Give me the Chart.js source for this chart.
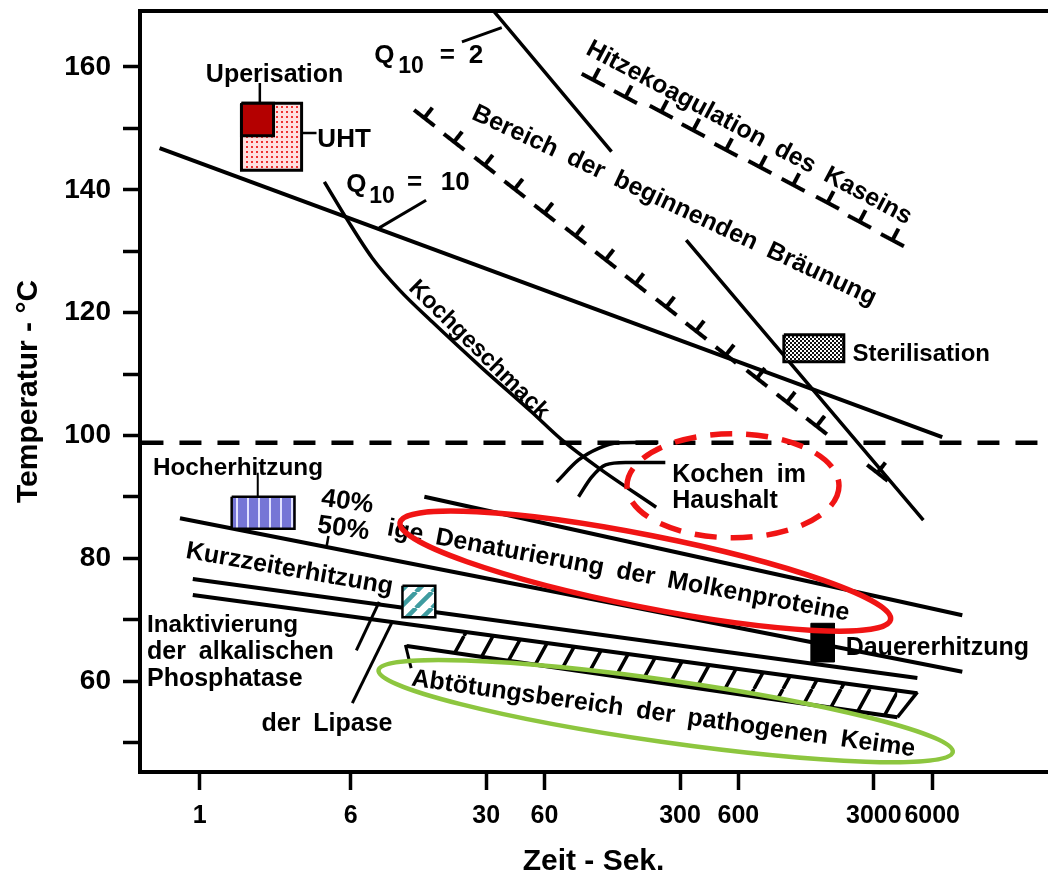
<!DOCTYPE html>
<html>
<head>
<meta charset="utf-8">
<script src="https://cdn.jsdelivr.net/npm/chart.js@4.4.1/dist/chart.umd.min.js"></script>
<style>
  html, body { margin: 0; padding: 0; background: #fff; }
</style>
</head>
<body>
<canvas id="chart" width="1052" height="877"></canvas>
<script>
// Achsen: Zeit in Sekunden (log), Temperatur in °C
const timeMin = 0.4914, timeMax = 23460;
const tempMin = 45.18, tempMax = 169.12;
const timeTicks = [1, 6, 30, 60, 300, 600, 3000, 6000];
const tempTicks = [50, 60, 70, 80, 90, 100, 110, 120, 130, 140, 150, 160];
const tempLabelled = [60, 80, 100, 120, 140, 160];

// Siedelinie (gestrichelt)
const boilTime = [0.5, 22000];
const boilTemp = [98.8, 98.8];

// Q10 = 10 und Q10 = 2 (mit Lücke fürs Label)
const q10Time = [0.62, 6760];
const q10Temp = [146.8, 99.7];
const q2Time = [33, 133, 230, 323, 5400];
const q2Temp = [169.0, 146.2, null, 131.8, 86.2];

// Kochgeschmack (Kurve)
const kochTime = [4.39, 5.77, 7.75, 10.7, 15.8, 28.5, 51.5, 73.5, 114, 226];
const kochTemp = [141.3, 135.1, 128.9, 123.7, 118.5, 111.0, 103.8, 99.3, 94.7, 88.3];

// Kochen im Haushalt, zwei Bögen
const haus1Time = [69.3, 89.9, 114, 144, 232];
const haus1Temp = [92.4, 96.0, 97.9, 98.8, 98.9];
const haus2Time = [89.9, 105, 124, 157, 252];
const haus2Temp = [90.0, 93.2, 95.2, 95.6, 95.6];

// T-Linien: Bräunung und Hitzekoagulation
const braunTime = [14.4, 20.5, 29.5, 42.1, 60.1, 86.8, 124, 177, 255, 363, 518, 748, 1070, 1520, 3130];
const braunTemp = [151.7, 147.8, 144.0, 140.1, 136.2, 132.5, 128.6, 124.7, 120.9, 117.0, 113.1, 109.3, 105.4, 101.5, 93.9];
const kaseinTime = [107, 157, 240, 351, 518, 775, 1150, 1730, 2530, 3740];
const kaseinTemp = [157.9, 155.1, 152.7, 149.7, 146.5, 143.7, 140.8, 137.9, 134.8, 131.8];

// untere Geraden
const den40Time = [14.4, 8580];
const den40Temp = [90.0, 70.7];
const den50Time = [0.79, 8580];
const den50Temp = [86.5, 61.5];
const kurz1Time = [0.92, 5030];
const kurz1Temp = [76.6, 60.5];
const kurz2Time = [0.92, 5030];
const kurz2Temp = [74.0, 58.0];
const keimBottomTime = [11.7, 3970];
const keimBottomTemp = [65.7, 54.1];
const hatchTime = [19.3, 3970];
const hatchTopTemp = [68.4, 58.5];
const hatchBotTemp = [64.7, 54.1];
const keimCapTime = [3970, 5030];
const keimCapTemp = [54.1, 58.2];
const keimLegTime = [11.5, 12.3];
const keimLegTemp = [65.9, 62.1];

// Hinweisstriche
const q2LeadTime = [22.5, 36.1], q2LeadTemp = [164.1, 166.4];
const q10LeadTime = [8.42, 14.7], q10LeadTemp = [133.8, 138.3];
const upeLeadTime = [2.04, 2.04], upeLeadTemp = [157.4, 154.1];
const uhtLeadTime = [3.35, 4.0], uhtLeadTemp = [149.25, 149.25];
const hochLeadTime = [1.99, 1.99], hochLeadTemp = [93.9, 90.0];
const pctLeadTime = [4.61, 4.50], pctLeadTemp = [83.6, 81.8];
const phosLeadTime = [6.42, 8.42], phosLeadTemp = [65.0, 72.9];
const lipLeadTime = [6.12, 9.82], lipLeadTemp = [56.4, 69.6];

// Kästchen [t1, t2], [T oben, T unten]
const uhtBoxTime = [1.64, 3.35], uhtBoxTemp = [154.1, 143.2];
const upeBoxTime = [1.64, 2.40], upeBoxTemp = [154.1, 148.8];
const sterBoxTime = [1030, 2100], sterBoxTemp = [116.4, 112.0];
const hochBoxTime = [1.46, 3.08], hochBoxTemp = [90.0, 84.8];
const kurzBoxTime = [11.1, 16.4], kurzBoxTemp = [75.5, 70.4];
const dauerBoxTime = [1420, 1880], dauerBoxTemp = [69.4, 63.1];

// Beschriftungen (Anker in Sek. / °C)
const labels = [
  {text: 'Uperisation', t: 1.074, c: 157.6},
  {text: 'UHT', t: 4.04, c: 147.0, size: 26},
  {text: 'Q', t: 7.94, c: 160.65, size: 26},
  {text: '10', t: 10.55, c: 159.0, size: 23},
  {text: '=', t: 17.3, c: 160.65, size: 26},
  {text: '2', t: 24.4, c: 160.65, size: 26},
  {text: 'Q', t: 5.70, c: 139.6, size: 26},
  {text: '10', t: 7.48, c: 137.85, size: 23},
  {text: '=', t: 11.7, c: 140.0, size: 26},
  {text: '10', t: 17.5, c: 140.0, size: 26},
  {text: 'Hitzekoagulation des Kaseins', t: 681, c: 149.25, angle: 28, align: 'center'},
  {text: 'Bereich der beginnenden Bräunung', t: 280, c: 137.4, angle: 25, align: 'center'},
  {text: 'Kochgeschmack', t: 27.5, c: 113.9, angle: 44.6, align: 'center', size: 23.5},
  {text: 'Kochen im', t: 273.5, c: 92.4},
  {text: 'Haushalt', t: 273.5, c: 88.2},
  {text: 'Sterilisation', t: 2331, c: 112.1, size: 24},
  {text: 'Hocherhitzung', t: 0.573, c: 93.55, size: 24.3},
  {text: '40%', t: 5.77, c: 89.15, angle: 8, align: 'center', size: 26},
  {text: '50%', t: 5.50, c: 84.8, angle: 8, align: 'center', size: 26},
  {text: 'ige Denaturierung der Molkenproteine', t: 144.3, c: 77.9, angle: 10.5, align: 'center'},
  {text: 'Kurzzeiterhitzung', t: 2.90, c: 78.2, angle: 10, align: 'center'},
  {text: 'Abtötungsbereich der pathogenen Keime', t: 246, c: 54.6, angle: 8, align: 'center'},
  {text: 'Inaktivierung', t: 0.534, c: 68.0, size: 24.3},
  {text: 'der alkalischen', t: 0.534, c: 63.6},
  {text: 'Phosphatase', t: 0.534, c: 59.2},
  {text: 'der Lipase', t: 2.08, c: 51.9},
  {text: 'Dauererhitzung', t: 2146, c: 64.2}
];

// rote / grüne Markierungen
const rings = [
  {t: 198.7, c: 77.9, rx: 250, ry: 36, angle: 11.2, color: '#f01414', width: 5.5},
  {t: 563, c: 91.8, rx: 106, ry: 52, angle: 0, color: '#f01414', width: 5.5, dash: [22, 14]},
  {t: 253, c: 55.1, rx: 290, ry: 31, angle: 8.1, color: 'rgb(141,198,63)', width: 4.5}
];

const FONT = '"Liberation Sans", Arial, Helvetica, sans-serif';
Chart.defaults.font.family = FONT;
Chart.defaults.font.weight = 'bold';
Chart.defaults.color = '#000';

const ctx = document.getElementById('chart').getContext('2d');

function tile(w, h, draw) {
  const c = document.createElement('canvas');
  c.width = w; c.height = h;
  draw(c.getContext('2d'), w, h);
  return ctx.createPattern(c, 'repeat');
}
function diag(g, w, h, lw, col) {
  g.strokeStyle = col; g.lineWidth = lw;
  g.beginPath();
  for (let k = -1; k <= 1; k++) { g.moveTo(k * w, h); g.lineTo(k * w + w, 0); }
  g.stroke();
}

const pinkDots = tile(5, 5, (g) => { g.fillStyle = '#ffe0e0'; g.fillRect(0, 0, 5, 5); g.fillStyle = '#ee3030'; g.fillRect(1, 1, 2, 2); });
const greyDots = tile(4, 4, (g) => { g.fillStyle = '#fff'; g.fillRect(0, 0, 4, 4); g.fillStyle = '#111'; g.fillRect(0, 0, 2, 2); g.fillRect(2, 2, 2, 2); });
const blueStripes = tile(11, 10, (g) => { g.fillStyle = '#7676d6'; g.fillRect(0, 0, 11, 10); g.fillStyle = '#e2e2ff'; g.fillRect(5, 0, 2, 10); });
const tealStripes = tile(16, 16, (g, w, h) => { g.fillStyle = '#fff'; g.fillRect(0, 0, w, h); diag(g, w, h, 4.5, '#3f9ca0'); });
const hatch = tile(29, 53, (g, w, h) => diag(g, w, h, 3.5, '#000'));

function tee(base, stem, lw) {
  const c = document.createElement('canvas');
  c.width = base + 4; c.height = 2 * stem + 6;
  const g = c.getContext('2d');
  const cy = c.height / 2;
  g.strokeStyle = '#000'; g.lineWidth = lw;
  g.beginPath();
  g.moveTo(2, cy); g.lineTo(2 + base, cy);
  g.moveTo(c.width / 2, cy); g.lineTo(c.width / 2, cy - stem);
  g.stroke();
  return c;
}
const teeMark = tee(26, 13, 4);

const pts = (ts, cs) => ts.map((t, i) => ({x: t, y: cs[i]}));
function line(ts, cs, extra) {
  return Object.assign({data: pts(ts, cs), borderColor: '#000', borderWidth: 4, pointRadius: 0, fill: false}, extra);
}
function box(ts, cs, bg, extra) {
  const [t1, t2] = ts, [c1, c2] = cs;
  return Object.assign({
    data: pts([t1, t2, t2, t1, t1], [c1, c1, c2, c2, c1]),
    borderColor: '#000', borderWidth: 3, borderJoinStyle: 'miter', pointRadius: 0,
    fill: 'shape', backgroundColor: bg
  }, extra);
}
function tees(ts, cs, rot) {
  return {data: pts(ts, cs), showLine: false, pointStyle: teeMark, pointRotation: rot, pointRadius: 3};
}

const datasets = [
  box(upeBoxTime, upeBoxTemp, '#b40000'),
  box(uhtBoxTime, uhtBoxTemp, pinkDots),
  box(sterBoxTime, sterBoxTemp, greyDots),
  box(hochBoxTime, hochBoxTemp, blueStripes, {borderWidth: 2.5}),
  box(kurzBoxTime, kurzBoxTemp, tealStripes, {borderWidth: 2.5}),
  box(dauerBoxTime, dauerBoxTemp, '#000', {borderWidth: 1}),
  line(boilTime, boilTemp, {borderWidth: 4.5, borderDash: [22, 16]}),
  line(q10Time, q10Temp),
  line(q2Time, q2Temp, {borderWidth: 3.5}),
  line(kochTime, kochTemp, {borderWidth: 3.5, cubicInterpolationMode: 'monotone'}),
  line(haus1Time, haus1Temp, {borderWidth: 3.5, cubicInterpolationMode: 'monotone'}),
  line(haus2Time, haus2Temp, {borderWidth: 3.5, cubicInterpolationMode: 'monotone'}),
  tees(braunTime, braunTemp, 38),
  tees(kaseinTime, kaseinTemp, 28),
  line(den40Time, den40Temp),
  line(den50Time, den50Temp),
  line(kurz1Time, kurz1Temp),
  line(kurz2Time, kurz2Temp),
  line(hatchTime, hatchTopTemp, {borderWidth: 0, fill: '+1', backgroundColor: hatch}),
  line(hatchTime, hatchBotTemp, {borderWidth: 0}),
  line(keimBottomTime, keimBottomTemp),
  line(keimCapTime, keimCapTemp, {borderWidth: 3.5}),
  line(keimLegTime, keimLegTemp, {borderWidth: 3}),
  line(q2LeadTime, q2LeadTemp, {borderWidth: 3}),
  line(q10LeadTime, q10LeadTemp, {borderWidth: 3}),
  line(upeLeadTime, upeLeadTemp, {borderWidth: 2.5}),
  line(uhtLeadTime, uhtLeadTemp, {borderWidth: 2.5}),
  line(hochLeadTime, hochLeadTemp, {borderWidth: 2}),
  line(pctLeadTime, pctLeadTemp, {borderWidth: 2.5}),
  line(phosLeadTime, phosLeadTemp, {borderWidth: 3}),
  line(lipLeadTime, lipLeadTemp, {borderWidth: 3})
];

const textPlugin = {
  id: 'texts',
  afterDatasetsDraw(chart) {
    const {ctx, scales: {x, y}} = chart;
    labels.forEach(l => {
      ctx.save();
      ctx.translate(x.getPixelForValue(l.t), y.getPixelForValue(l.c));
      ctx.rotate((l.angle || 0) * Math.PI / 180);
      ctx.font = 'bold ' + (l.size || 25) + 'px ' + FONT;
      ctx.fillStyle = '#000';
      ctx.textAlign = l.align || 'left';
      ctx.textBaseline = l.align === 'center' ? 'middle' : 'alphabetic';
      ctx.wordSpacing = '6px';
      ctx.fillText(l.text, 0, 0);
      ctx.restore();
    });
    // Markierungen obendrauf
    rings.forEach(r => {
      ctx.save();
      ctx.strokeStyle = r.color;
      ctx.lineWidth = r.width;
      ctx.setLineDash(r.dash || []);
      ctx.beginPath();
      ctx.ellipse(x.getPixelForValue(r.t), y.getPixelForValue(r.c), r.rx, r.ry, r.angle * Math.PI / 180, 0, Math.PI * 2);
      ctx.stroke();
      ctx.restore();
    });
  }
};

new Chart(ctx, {
  type: 'line',
  data: {datasets},
  plugins: [textPlugin],
  options: {
    responsive: false,
    animation: false,
    events: [],
    devicePixelRatio: 1,
    layout: {padding: {top: 0, right: 2, bottom: 0, left: 0}},
    plugins: {legend: {display: false}, tooltip: {enabled: false}},
    scales: {
      x: {
        type: 'logarithmic',
        min: timeMin, max: timeMax,
        afterBuildTicks: s => { s.ticks = timeTicks.map(v => ({value: v})); },
        afterFit: s => { s.height = 105; s.paddingLeft = 0; s.paddingRight = 0; },
        ticks: {autoSkip: false, maxRotation: 0, padding: 11, font: {size: 25, weight: 'bold'}, color: '#000', callback: v => String(v)},
        grid: {drawOnChartArea: false, drawTicks: true, tickLength: 18, tickWidth: 3.5, tickColor: '#000'},
        border: {display: true, width: 4, color: '#000'},
        title: {display: true, text: 'Zeit - Sek.', color: '#000', font: {size: 30, weight: 'bold', lineHeight: 1}, padding: {top: 0, bottom: 0}}
      },
      x2: {
        type: 'linear', position: 'top', display: true,
        grid: {display: false}, ticks: {display: false},
        border: {display: true, width: 4, color: '#000'},
        afterFit: s => { s.height = 11; }
      },
      y: {
        type: 'linear',
        min: tempMin, max: tempMax,
        afterBuildTicks: s => { s.ticks = tempTicks.map(v => ({value: v})); },
        afterFit: s => { s.width = 140; s.paddingTop = 0; s.paddingBottom = 0; },
        ticks: {padding: 12, font: {size: 28, weight: 'bold'}, color: '#000', callback: v => tempLabelled.includes(v) ? String(v) : ''},
        grid: {drawOnChartArea: false, drawTicks: true, tickLength: 17, tickWidth: 3.5, tickColor: '#000'},
        border: {display: true, width: 4, color: '#000'},
        title: {display: true, text: 'Temperatur - °C', color: '#000', font: {size: 30, weight: 'bold', lineHeight: 1}, padding: {top: 14, bottom: 0}}
      }
    }
  }
});
</script>
</body>
</html>
